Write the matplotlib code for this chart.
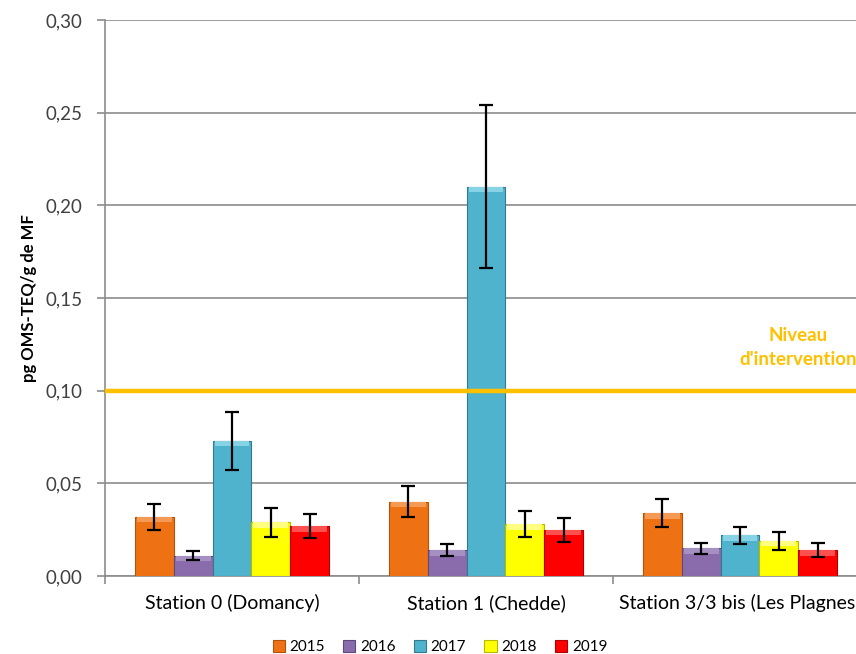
import numpy as np
import matplotlib
matplotlib.use('Agg')
import matplotlib.pyplot as plt
from matplotlib.ticker import FuncFormatter

plt.rcParams['font.family'] = ['Lato', 'DejaVu Sans']

stations = ['Station 0 (Domancy)', 'Station 1 (Chedde)', 'Station 3/3 bis (Les Plagnes)']
years = ['2015', '2016', '2017', '2018', '2019']
colors = ['#EE7214', '#8A6CAC', '#4FB3CD', '#FFFF00', '#FF0000']
edges = ['#B0540C', '#5E4A78', '#34798C', '#B8B800', '#B00000']
tops = ['#F59A55', '#A690C2', '#86D3E6', '#FFFF80', '#FF5050']

# mean value per year, one list per station
values = {
    '2015': [0.032, 0.040, 0.034],
    '2016': [0.011, 0.014, 0.015],
    '2017': [0.073, 0.210, 0.022],
    '2018': [0.029, 0.028, 0.019],
    '2019': [0.027, 0.025, 0.014],
}
errors = {
    '2015': [0.0070, 0.0083, 0.0074],
    '2016': [0.0025, 0.0030, 0.0030],
    '2017': [0.0157, 0.0440, 0.0047],
    '2018': [0.0077, 0.0070, 0.0049],
    '2019': [0.0067, 0.0065, 0.0037],
}
threshold = 0.10

fig = plt.figure(figsize=(8.56, 6.54), dpi=100)
# right edge of the plot runs past the figure, as in the report layout
ax = fig.add_axes([105/856, 1-576/654, 762/856, 556/654])

x = np.arange(len(stations))
w = 0.153
bevel = 0.003
for i, yr in enumerate(years):
    pos = x + (i - 2) * w
    vals = np.array(values[yr])
    ax.bar(pos, vals, width=w, color=colors[i], edgecolor=edges[i],
           linewidth=0.8, zorder=3, label=yr)
    # light strip along the top of each bar for a bevelled look
    ax.bar(pos, np.full(3, bevel), bottom=vals - bevel, width=w * 0.9,
           color=tops[i], linewidth=0, zorder=3.5)
    ax.errorbar(pos, vals, yerr=errors[yr], fmt='none', ecolor='black',
                elinewidth=1.6, capsize=5, capthick=1.6, zorder=4)

ax.axhline(threshold, color='#FFC000', linewidth=3.2, zorder=5)
ax.text(2.228, 0.1235, "Niveau\nd'intervention", color='#FFC000',
        fontsize=13.5, fontweight='bold', ha='center', va='center',
        linespacing=1.5, zorder=6)

ax.set_xlim(-0.5, 2.5)
ax.set_ylim(0, 0.30)
ax.set_yticks(np.arange(0, 0.31, 0.05))
ax.yaxis.set_major_formatter(FuncFormatter(lambda v, p: f'{v:.2f}'.replace('.', ',')))
ax.grid(axis='y', color='#8C8C8C', linewidth=1.2, zorder=0)

ax.set_xticks(x)
ax.set_xticklabels(stations)
ax.set_xticks([-0.5, 0.5, 1.5, 2.5], minor=True)
ax.tick_params(axis='x', which='major', length=0, pad=13, labelsize=14)
ax.tick_params(axis='x', which='minor', length=6, color='#8C8C8C', width=1.2)
ax.tick_params(axis='y', length=6, color='#8C8C8C', width=1.2, labelsize=13.5,
               labelcolor='#404040', pad=10)

for s in ['top', 'right']:
    ax.spines[s].set_visible(False)
for s in ['left', 'bottom']:
    ax.spines[s].set_color('#8C8C8C')
    ax.spines[s].set_linewidth(1.2)

ax.set_ylabel('pg OMS-TEQ/g de MF', fontsize=12, fontweight='bold', labelpad=6)

fig.legend(loc='center', bbox_to_anchor=(440/856, 1-647/654), ncol=5,
           frameon=False, fontsize=11, handlelength=0.8, handleheight=0.8,
           handletextpad=0.3, columnspacing=1.2)

fig.savefig('out.png', dpi=100)
